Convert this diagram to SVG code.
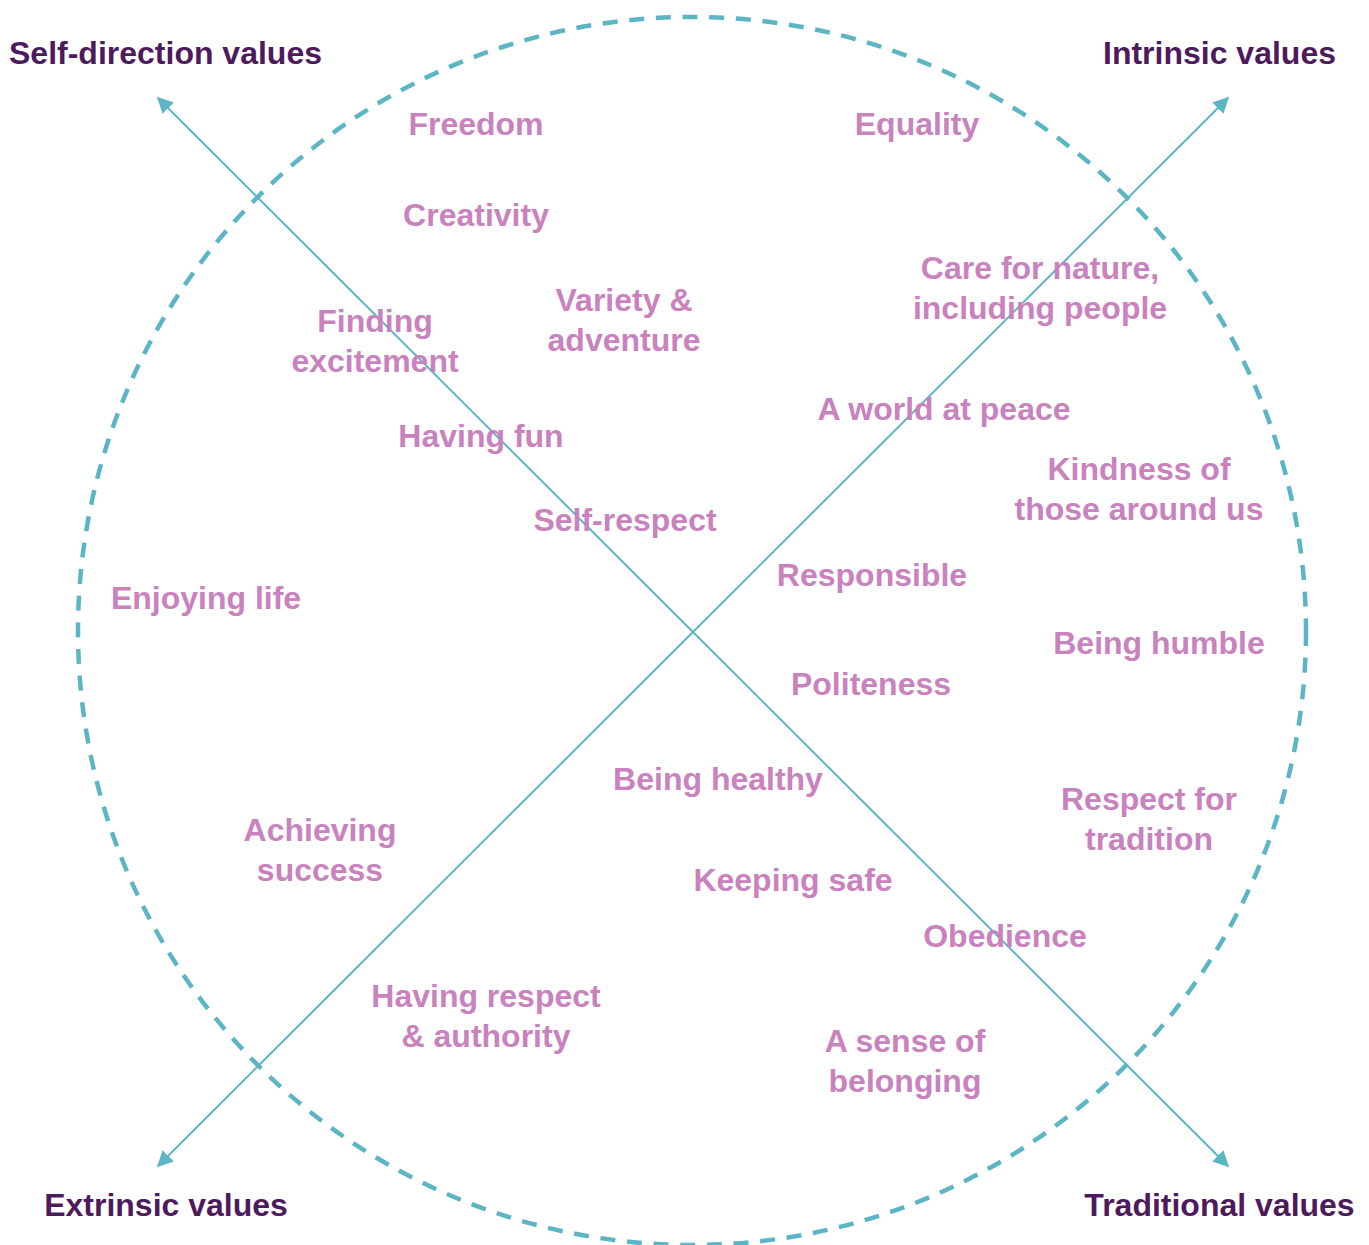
<svg xmlns="http://www.w3.org/2000/svg" width="1369" height="1245" viewBox="0 0 1369 1245">
  <defs>
    <marker id="arrow" viewBox="0 0 10 10" refX="9" refY="5" markerWidth="8" markerHeight="8" markerUnits="strokeWidth" orient="auto">
      <path d="M0,0 L10,5 L0,10 Z" fill="#5bb5c5"/>
    </marker>
  </defs>
  <style>
    .axis { stroke: #5bb5c5; stroke-width: 2; fill: none; }
    .ring { stroke: #5bb5c5; stroke-width: 4.5; fill: none; stroke-dasharray: 15 11.7; }
    text { font-family: "Liberation Sans", Arial, sans-serif; font-weight: bold; font-size: 32px; text-anchor: middle; }
    .value { fill: #c982bd; }
    .corner { fill: #4d1a5c; }
  </style>
  <rect width="1369" height="1245" fill="#ffffff"/>

  <!-- dashed outer ring -->
  <g id="ring">
    <circle class="ring" cx="692" cy="631" r="614"/>
  </g>

  <!-- crossing axes -->
  <g id="connectors">
    <line class="axis" x1="693" y1="632" x2="158" y2="98" marker-end="url(#arrow)"/>
    <line class="axis" x1="693" y1="632" x2="1228" y2="98" marker-end="url(#arrow)"/>
    <line class="axis" x1="693" y1="632" x2="158" y2="1166" marker-end="url(#arrow)"/>
    <line class="axis" x1="693" y1="632" x2="1228" y2="1166" marker-end="url(#arrow)"/>
  </g>

  <!-- quadrant headings -->
  <g id="self-direction"><text class="corner" x="165.5" y="64">Self-direction values</text></g>
  <g id="intrinsic"><text class="corner" x="1219.5" y="64">Intrinsic values</text></g>
  <g id="extrinsic"><text class="corner" x="166" y="1216">Extrinsic values</text></g>
  <g id="traditional"><text class="corner" x="1219.5" y="1216">Traditional values</text></g>

  <!-- individual values -->
  <g id="freedom"><text class="value" x="476" y="135">Freedom</text></g>
  <g id="creativity"><text class="value" x="476" y="226">Creativity</text></g>
  <g id="equality"><text class="value" x="917" y="135">Equality</text></g>
  <g id="care-for-nature"><text class="value" x="1040" y="279">Care for nature,</text><text class="value" x="1040" y="319">including people</text></g>
  <g id="variety"><text class="value" x="624" y="311">Variety &amp;</text><text class="value" x="624" y="351">adventure</text></g>
  <g id="finding-excitement"><text class="value" x="375" y="332">Finding</text><text class="value" x="375" y="372">excitement</text></g>
  <g id="world-at-peace"><text class="value" x="944" y="420">A world at peace</text></g>
  <g id="having-fun"><text class="value" x="481" y="447">Having fun</text></g>
  <g id="kindness"><text class="value" x="1139" y="480">Kindness of</text><text class="value" x="1139" y="520">those around us</text></g>
  <g id="self-respect"><text class="value" x="625" y="531">Self-respect</text></g>
  <g id="responsible"><text class="value" x="872" y="586">Responsible</text></g>
  <g id="enjoying-life"><text class="value" x="206" y="609">Enjoying life</text></g>
  <g id="being-humble"><text class="value" x="1159" y="654">Being humble</text></g>
  <g id="politeness"><text class="value" x="871" y="695">Politeness</text></g>
  <g id="being-healthy"><text class="value" x="718" y="790">Being healthy</text></g>
  <g id="respect-for-tradition"><text class="value" x="1149" y="810">Respect for</text><text class="value" x="1149" y="850">tradition</text></g>
  <g id="achieving-success"><text class="value" x="320" y="841">Achieving</text><text class="value" x="320" y="881">success</text></g>
  <g id="keeping-safe"><text class="value" x="793" y="891">Keeping safe</text></g>
  <g id="obedience"><text class="value" x="1005" y="947">Obedience</text></g>
  <g id="respect-authority"><text class="value" x="486" y="1007">Having respect</text><text class="value" x="486" y="1047">&amp; authority</text></g>
  <g id="belonging"><text class="value" x="905" y="1052">A sense of</text><text class="value" x="905" y="1092">belonging</text></g>
</svg>
